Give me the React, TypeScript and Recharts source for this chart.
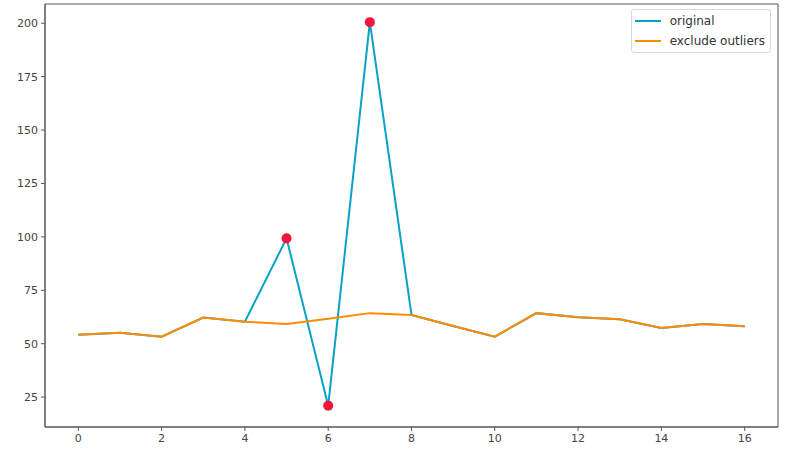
import React from 'react';
import {
  ComposedChart, Line, XAxis, YAxis, Legend, ReferenceArea
} from 'recharts';

// values
const xValues = [0, 1, 2, 3, 4, 5, 6, 7, 8, 9, 10, 11, 12, 13, 14, 15, 16];
const original = [54.2, 55.1, 53.3, 62.2, 60.3, 99.3, 21, 200.5, 63.4, 58.3, 53.3, 64.3, 62.4, 61.4, 57.3, 59.2, 58.2];
const excludeOutliers = [54.2, 55.1, 53.3, 62.2, 60.3, 59.2, 61.7, 64.3, 63.4, 58.3, 53.3, 64.3, 62.4, 61.4, 57.3, 59.2, 58.2];
const outliers: (number | null)[] = [null, null, null, null, null, 99.3, 21, 200.5, null, null, null, null, null, null, null, null, null];

const xTicks = [0, 2, 4, 6, 8, 10, 12, 14, 16];
const yTicks = [25, 50, 75, 100, 125, 150, 175, 200];

const BLUE = '#0aa0c8';
const ORANGE = '#ff8c00';
const RED = '#f5143c';
const FONT = '"DejaVu Sans", sans-serif';

const data = xValues.map((x, i) => ({
  x,
  original: original[i],
  exclude: excludeOutliers[i],
  outlier: outliers[i],
}));

const LegendBox = () => (
  <div style={{
    border: '1px solid #d8d8d8', borderRadius: 3, background: '#fff',
    padding: '1px 5px 1px 3px', fontFamily: FONT, fontSize: 12, color: '#333',
    lineHeight: '20px'
  }}>
    {[['original', BLUE], ['exclude outliers', ORANGE]].map(([label, color]) => (
      <div key={label} style={{ display: 'flex', alignItems: 'center' }}>
        <span style={{ display: 'inline-block', width: 26, height: 2, background: color, marginRight: 9 }} />
        <span>{label}</span>
      </div>
    ))}
  </div>
);

const App: React.FC = () => {
  const tick = { fill: '#444', fontSize: 11, fontFamily: FONT };
  return (
    <div style={{ position: 'absolute', left: 0, top: 0, width: 794, height: 458, background: '#fff' }}>
      <ComposedChart width={794} height={458} data={data}
        margin={{ top: 4, right: 16, bottom: 0, left: 0 }}>
        <XAxis dataKey="x" type="number" domain={[-0.8, 16.8]} ticks={xTicks}
          allowDataOverflow tick={tick} tickSize={4} tickMargin={3}
          stroke="#555" tickLine={{ stroke: '#555' }} height={31} />
        <YAxis type="number" domain={[11, 209]} ticks={yTicks} allowDataOverflow
          tick={tick} tickSize={4} tickMargin={3} width={45}
          stroke="#555" tickLine={{ stroke: '#555' }} />
        <ReferenceArea x1={-0.8} x2={16.8} y1={11} y2={209} fill="none"
          stroke="#555" strokeWidth={1} />
        <Line dataKey="original" stroke={BLUE} strokeWidth={2} dot={false}
          isAnimationActive={false} />
        <Line dataKey="exclude" stroke={ORANGE} strokeWidth={2} dot={false}
          isAnimationActive={false} />
        <Line dataKey="outlier" stroke="none" legendType="none" connectNulls={false}
          dot={{ r: 5, fill: RED, stroke: 'none' }} activeDot={false}
          isAnimationActive={false} />
        <Legend layout="vertical" align="center" verticalAlign="middle"
          wrapperStyle={{ top: 9, right: 23, left: 'auto', bottom: 'auto', width: 'auto' }}
          content={() => <LegendBox />} />
      </ComposedChart>
    </div>
  );
};

export default App;
